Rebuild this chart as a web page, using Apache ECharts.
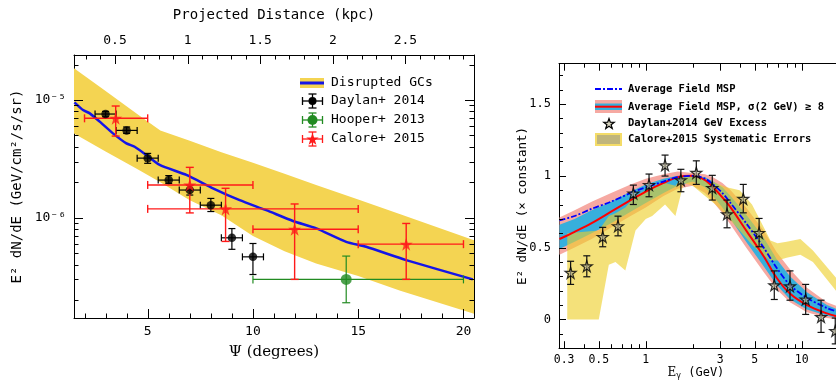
<!DOCTYPE html>
<html>
<head>
<meta charset="utf-8">
<script src="https://cdn.jsdelivr.net/npm/echarts@6/dist/echarts.min.js"></script>
<style>
html, body { margin: 0; padding: 0; background: #fff; }
#main { width: 836px; height: 384px; }
</style>
</head>
<body>
<div id="main"></div>
<script>
// ---- left panel : flux vs angle from the GC ----
var psiMajor = [5, 10, 15, 20];
var psiMinor = [2, 3, 4, 6, 7, 8, 9, 11, 12, 13, 14, 16, 17, 18, 19];
var kpcMajor = [0.5, 1, 1.5, 2, 2.5];
var kpcMinor = [0.3, 0.4, 0.6, 0.7, 0.8, 0.9, 1.1, 1.2, 1.3, 1.4, 1.6, 1.7, 1.8, 1.9, 2.1, 2.2, 2.3, 2.4, 2.6, 2.7, 2.8, 2.9];
var fluxMajor = [1e-6, 1e-5];
var fluxMinor = [2e-7, 3e-7, 4e-7, 5e-7, 6e-7, 7e-7, 8e-7, 9e-7, 2e-6, 3e-6, 4e-6, 5e-6, 6e-6, 7e-6, 8e-6, 9e-6, 2e-5];

// disrupted GC model (blue line) and its band
var gcPsi = [1.52, 1.93, 2.25, 2.72, 3.35, 3.99, 4.38, 4.94, 5.57, 6.84, 8.10, 9.37, 10.63, 11.90, 13.01, 14.43, 15.38, 17.28, 20.44];
var gcFlux = [9.56e-6, 8.22e-6, 7.7e-6, 6.55e-6, 5.21e-6, 4.28e-6, 4.01e-6, 3.41e-6, 2.81e-6, 2.31e-6, 1.78e-6, 1.41e-6, 1.16e-6, 9.4e-7, 8.13e-7, 6.25e-7, 5.67e-7, 4.37e-7, 3.0e-7];
var bandPsi = [1.5, 3, 4.5, 5.6, 7, 8.5, 10, 11.5, 13, 15, 17, 20.5];
var bandHi = [1.86e-5, 1.19e-5, 7.6e-6, 5.5e-6, 4.5e-6, 3.6e-6, 2.93e-6, 2.36e-6, 1.9e-6, 1.43e-6, 1.07e-6, 6.45e-7];
var bandLo = [5.2e-6, 3.66e-6, 2.6e-6, 2.0e-6, 1.41e-6, 1.05e-6, 7.0e-7, 5.2e-7, 4.1e-7, 3.2e-7, 2.4e-7, 1.53e-7];

// Daylan+ 2014
var dayPsi = [3, 4, 5, 6, 7, 8, 9, 10];
var dayFlux = [7.6e-6, 5.52e-6, 3.21e-6, 2.09e-6, 1.72e-6, 1.28e-6, 6.76e-7, 4.66e-7];
var dayLo = [7.2e-6, 5.2e-6, 2.9e-6, 1.96e-6, 1.56e-6, 1.13e-6, 5.4e-7, 3.3e-7];
var dayHi = [8.0e-6, 5.9e-6, 3.52e-6, 2.28e-6, 1.89e-6, 1.46e-6, 8.1e-7, 6.05e-7];
// Hooper+ 2013
var hooPsi = [14.43];
var hooFlux = [3.0e-7];
var hooLo = [1.9e-7];
var hooHi = [4.73e-7];
var hooPsiLo = [10];
var hooPsiHi = [20];
// Calore+ 2015
var calPsi = [3.48, 7.0, 8.7, 11.98, 17.28];
var calFlux = [6.99e-6, 1.90e-6, 1.19e-6, 8.0e-7, 5.97e-7];
var calLo = [4.94e-6, 1.10e-6, 6.3e-7, 3.0e-7, 3.0e-7];
var calHi = [8.89e-6, 2.68e-6, 1.78e-6, 1.31e-6, 8.95e-7];
var calPsiLo = [2.0, 5, 5, 10, 15];
var calPsiHi = [5.0, 10, 15, 15, 20];

// ---- right panel : spectrum ----
var eMajor = [0.3, 0.5, 1, 3, 5, 10, 30, 50];
var eMinor = [0.4, 0.6, 0.7, 0.8, 0.9, 2, 4, 6, 7, 8, 9, 20, 40, 60, 70, 80, 90];
var specMajor = [0, 0.5, 1, 1.5];
var specMinor = [-0.1, 0.1, 0.2, 0.3, 0.4, 0.6, 0.7, 0.8, 0.9, 1.1, 1.2, 1.3, 1.4, 1.6, 1.7];

var mspE = [0.28, 0.35, 0.45, 0.6, 0.8, 1.0, 1.3, 1.6, 2.0, 2.4, 2.7, 3.1, 3.5, 4.4, 5.7, 6.9, 8.4, 10.8, 14.5, 17];
var mspRed = [0.56, 0.61, 0.67, 0.75, 0.83, 0.89, 0.95, 0.99, 1.0, 0.97, 0.92, 0.85, 0.78, 0.62, 0.44, 0.29, 0.18, 0.10, 0.042, 0.02];
var mspBlue = [0.69, 0.72, 0.77, 0.82, 0.88, 0.92, 0.96, 0.99, 1.0, 0.98, 0.94, 0.88, 0.81, 0.67, 0.50, 0.36, 0.24, 0.15, 0.08, 0.055];
var pinkLo = [0.45, 0.50, 0.56, 0.64, 0.72, 0.78, 0.86, 0.91, 0.93, 0.88, 0.82, 0.74, 0.66, 0.50, 0.33, 0.21, 0.12, 0.05, 0.01, 0.0];
var pinkHi = [0.71, 0.76, 0.82, 0.88, 0.94, 0.98, 1.01, 1.03, 1.02, 1.01, 0.99, 0.95, 0.90, 0.78, 0.62, 0.47, 0.35, 0.22, 0.12, 0.09];
var cyanLo = [0.49, 0.54, 0.60, 0.67, 0.75, 0.81, 0.88, 0.93, 0.96, 0.92, 0.86, 0.78, 0.70, 0.54, 0.37, 0.24, 0.14, 0.07, 0.025, 0.01];
var cyanHi = [0.66, 0.70, 0.76, 0.82, 0.89, 0.94, 0.98, 1.0, 1.0, 0.99, 0.96, 0.92, 0.86, 0.73, 0.57, 0.42, 0.30, 0.19, 0.10, 0.07];

// Calore+2015 systematic errors (zig-zag band)
var sysE = [0.314, 0.50, 0.58, 0.64, 0.74, 0.86, 1.0, 1.1, 1.33, 1.55, 1.75, 2.0, 2.4, 2.8, 3.3, 4.0, 4.8, 5.6, 6.3, 7.0, 8.0, 9.8, 11.8, 16.6, 21];
var sysLo = [0.0, 0.0, 0.38, 0.40, 0.34, 0.62, 0.70, 0.72, 0.80, 0.72, 0.95, 0.93, 0.86, 0.80, 0.72, 0.62, 0.52, 0.45, 0.41, 0.41, 0.43, 0.45, 0.40, 0.20, 0.12];
var sysHi = [0.60, 0.62, 0.72, 0.74, 0.78, 0.86, 0.90, 0.92, 0.95, 0.93, 1.0, 1.0, 0.98, 0.95, 0.92, 0.90, 0.80, 0.66, 0.55, 0.53, 0.54, 0.56, 0.48, 0.29, 0.20];

// Daylan+2014 GeV excess
var exE = [0.33, 0.419, 0.53, 0.664, 0.833, 1.05, 1.33, 1.68, 2.11, 2.67, 3.32, 4.22, 5.33, 6.67, 8.41, 10.6, 13.3, 16.4];
var exVal = [0.325, 0.371, 0.575, 0.650, 0.877, 0.937, 1.074, 0.970, 1.021, 0.916, 0.733, 0.840, 0.603, 0.239, 0.232, 0.139, 0.018, -0.08];
var exLo = [0.244, 0.297, 0.506, 0.582, 0.80, 0.854, 0.998, 0.889, 0.94, 0.831, 0.638, 0.742, 0.506, 0.139, 0.134, 0.035, -0.09, -0.17];
var exHi = [0.405, 0.443, 0.641, 0.719, 0.935, 1.012, 1.144, 1.045, 1.104, 1.003, 0.831, 0.94, 0.703, 0.338, 0.338, 0.244, 0.134, 0.01];

var kpcPerDeg = 0.145;
var FONT = 'DejaVu Sans Mono';
var BAND_YEL = '#f4d452';
var STAR = 'path://M50,0 L61.2,34.5 L97.6,34.5 L68.2,55.9 L79.4,90.5 L50,69.1 L20.6,90.5 L31.8,55.9 L2.4,34.5 L38.8,34.5 Z';

function zip() {
  var cols = Array.prototype.slice.call(arguments);
  return cols[0].map(function (v, i) { return cols.map(function (c) { return c[i]; }); });
}

function sup(n) {
  var m = {'-': '⁻', '0': '⁰', '1': '¹', '2': '²', '3': '³', '4': '⁴', '5': '⁵', '6': '⁶', '7': '⁷', '8': '⁸', '9': '⁹'};
  return String(n).split('').map(function (c) { return m[c]; }).join('');
}

function mkAxis(o) {
  return {
    type: o.type || 'value', gridIndex: o.grid, position: o.pos,
    min: o.min, max: o.max, logBase: 10,
    axisLine: { show: true, onZero: false, lineStyle: { color: '#000', width: 1 } },
    axisTick: { show: false },
    axisLabel: o.labels ? { show: true, customValues: o.labels, formatter: o.fmt, margin: o.margin, fontFamily: FONT, fontSize: o.fs || 13, color: '#000' } : { show: false },
    splitLine: { show: false },
    name: o.name || '', nameLocation: 'middle', nameGap: o.nameGap,
    nameTextStyle: o.nameStyle || {}, nameMoveOverlap: false
  };
}

// inward tick marks along the frame, placed with the axis scales
// sides: {bottom|top|left|right: [[values, length], ...]}
function tickSeries(xa, ya, xRef, yRef, sides) {
  return {
    type: 'custom', xAxisIndex: xa, yAxisIndex: ya, z: 10, silent: true,
    data: [[xRef, yRef]],
    renderItem: function (params, api) {
      var cs = params.coordSys, kids = [];
      var st = { stroke: '#000', lineWidth: 1 };
      var top = cs.y, bot = cs.y + cs.height, lft = cs.x, rgt = cs.x + cs.width;
      ['bottom', 'top', 'left', 'right'].forEach(function (side) {
        (sides[side] || []).forEach(function (set) {
          set[0].forEach(function (v) {
            var len = set[1];
            if (side === 'bottom' || side === 'top') {
              var px = Math.round(api.coord([v, yRef])[0]) + 0.5;
              var y0 = side === 'bottom' ? bot : top;
              var y1 = side === 'bottom' ? bot - len : top + len;
              kids.push({ type: 'line', shape: { x1: px, y1: y0, x2: px, y2: y1 }, style: st });
            } else {
              var py = Math.round(api.coord([xRef, v])[1]) + 0.5;
              var x0 = side === 'left' ? lft : rgt;
              var x1 = side === 'left' ? lft + len : rgt - len;
              kids.push({ type: 'line', shape: { x1: x0, y1: py, x2: x1, y2: py }, style: st });
            }
          });
        });
      });
      return { type: 'group', children: kids };
    }
  };
}

function bandSeries(xa, ya, xs, lo, hi, color, z) {
  return {
    type: 'custom', xAxisIndex: xa, yAxisIndex: ya, z: z, silent: true,
    data: [[xs[0], lo[0]]],
    renderItem: function (params, api) {
      var pts = [], i;
      for (i = 0; i < xs.length; i++) pts.push(api.coord([xs[i], hi[i]]));
      for (i = xs.length - 1; i >= 0; i--) pts.push(api.coord([xs[i], lo[i]]));
      return { type: 'polygon', shape: { points: pts }, style: { fill: color } };
    }
  };
}

// rows: [x, y, xlo, xhi, ylo, yhi]
function errSeries(xa, ya, rows, color, width, cap, z) {
  return {
    type: 'custom', xAxisIndex: xa, yAxisIndex: ya, z: z, silent: true,
    data: rows,
    renderItem: function (params, api) {
      var x = api.value(0), y = api.value(1);
      var kids = [];
      var st = { stroke: color, lineWidth: width };
      var xl = api.value(2), xh = api.value(3);
      if (xl !== xh) {
        var a = api.coord([xl, y]), b = api.coord([xh, y]);
        kids.push({ type: 'line', shape: { x1: a[0], y1: a[1], x2: b[0], y2: b[1] }, style: st });
        kids.push({ type: 'line', shape: { x1: a[0], y1: a[1] - cap, x2: a[0], y2: a[1] + cap }, style: st });
        kids.push({ type: 'line', shape: { x1: b[0], y1: b[1] - cap, x2: b[0], y2: b[1] + cap }, style: st });
      }
      var c = api.coord([x, api.value(4)]), d = api.coord([x, api.value(5)]);
      kids.push({ type: 'line', shape: { x1: c[0], y1: c[1], x2: d[0], y2: d[1] }, style: st });
      kids.push({ type: 'line', shape: { x1: c[0] - cap, y1: c[1], x2: c[0] + cap, y2: c[1] }, style: st });
      kids.push({ type: 'line', shape: { x1: d[0] - cap, y1: d[1], x2: d[0] + cap, y2: d[1] }, style: st });
      return { type: 'group', children: kids };
    }
  };
}

function starPts(cx, cy, r) {
  var p = [];
  for (var i = 0; i < 10; i++) {
    var rr = i % 2 ? r * 0.4 : r;
    var a = -Math.PI / 2 + i * Math.PI / 5;
    p.push([cx + rr * Math.cos(a), cy + rr * Math.sin(a)]);
  }
  return p;
}

function legendErr(cx, cy, color, marker) {
  var st = { stroke: color, lineWidth: 1.3 };
  var g = [
    { type: 'line', shape: { x1: cx - 10, y1: cy, x2: cx + 10, y2: cy }, style: st },
    { type: 'line', shape: { x1: cx - 10, y1: cy - 4, x2: cx - 10, y2: cy + 4 }, style: st },
    { type: 'line', shape: { x1: cx + 10, y1: cy - 4, x2: cx + 10, y2: cy + 4 }, style: st },
    { type: 'line', shape: { x1: cx, y1: cy - 7, x2: cx, y2: cy + 7 }, style: st },
    { type: 'line', shape: { x1: cx - 4, y1: cy - 7, x2: cx + 4, y2: cy - 7 }, style: st },
    { type: 'line', shape: { x1: cx - 4, y1: cy + 7, x2: cx + 4, y2: cy + 7 }, style: st }
  ];
  g.push(marker);
  return g;
}

function legText(x, y, s, fs, bold) {
  return { type: 'text', x: x, y: y, style: { text: s, fontFamily: FONT, fontSize: fs, fontWeight: bold ? 'bold' : 'normal', fill: '#000', verticalAlign: 'middle', align: 'left' } };
}

var chart = echarts.init(document.getElementById('main'));

var eMin = 0.278, eMax = 100;
var rightGridW = (Math.log10(eMax) - Math.log10(eMin)) * 156;

var graphics = [];
// left legend
graphics.push({ type: 'rect', shape: { x: 300, y: 78, width: 24, height: 10 }, style: { fill: BAND_YEL } });
graphics.push({ type: 'line', shape: { x1: 300, y1: 83, x2: 324, y2: 83 }, style: { stroke: '#1515e8', lineWidth: 3 } });
graphics.push(legText(331, 83, 'Disrupted GCs', 13));
legendErr(312.5, 101, '#000', { type: 'circle', shape: { cx: 312.5, cy: 101, r: 4 }, style: { fill: '#000' } }).forEach(function (e) { graphics.push(e); });
graphics.push(legText(331, 101, 'Daylan+ 2014', 13));
legendErr(312.5, 120, '#228b22', { type: 'circle', shape: { cx: 312.5, cy: 120, r: 5 }, style: { fill: '#228b22' } }).forEach(function (e) { graphics.push(e); });
graphics.push(legText(331, 120, 'Hooper+ 2013', 13));
legendErr(312.5, 139, '#ff1a1a', { type: 'polygon', shape: { points: starPts(312.5, 139.5, 6.5) }, style: { fill: '#ff1a1a' } }).forEach(function (e) { graphics.push(e); });
graphics.push(legText(331, 139, 'Calore+ 2015', 13));
// right legend
graphics.push({ type: 'line', shape: { x1: 595, y1: 89, x2: 622, y2: 89 }, style: { stroke: '#0000ff', lineWidth: 2, lineDash: [6, 2, 2, 2] } });
graphics.push(legText(628, 89, 'Average Field MSP', 10.5, true));
graphics.push({ type: 'rect', shape: { x: 595, y: 100, width: 27, height: 13 }, style: { fill: '#f6a9a2' } });
graphics.push({ type: 'rect', shape: { x: 595, y: 103.5, width: 27, height: 6.5 }, style: { fill: '#37afdc' } });
graphics.push({ type: 'line', shape: { x1: 595, y1: 106.7, x2: 622, y2: 106.7 }, style: { stroke: '#ff0000', lineWidth: 2 } });
graphics.push(legText(628, 107, 'Average Field MSP, σ(2 GeV) ≥ 8', 10.5, true));
graphics.push({ type: 'polygon', shape: { points: starPts(609, 124, 5.5) }, style: { fill: 'rgba(190,185,150,0.6)', stroke: '#000', lineWidth: 1.2 } });
graphics.push(legText(628, 123, 'Daylan+2014 GeV Excess', 10.5, true));
graphics.push({ type: 'rect', shape: { x: 595, y: 133, width: 27, height: 13 }, style: { fill: 'rgba(240,205,40,0.7)' } });
graphics.push({ type: 'rect', shape: { x: 597, y: 135, width: 23, height: 9 }, style: { fill: 'rgba(150,150,140,0.55)' } });
graphics.push(legText(628, 139, 'Calore+2015 Systematic Errors', 10.5, true));

var option = {
  animation: false,
  backgroundColor: '#fff',
  textStyle: { fontFamily: FONT, color: '#000' },
  grid: [
    { left: 74, top: 55, width: 400, height: 263, containLabel: false, outerBoundsMode: 'none' },
    { left: 559, top: 63.7, width: rightGridW, height: 284.5, containLabel: false, outerBoundsMode: 'none' }
  ],
  xAxis: [
    mkAxis({ grid: 0, pos: 'bottom', min: 1.5, max: 20.5, labels: psiMajor, margin: 7, fmt: function (v) { return String(v); },
      name: 'Ψ (degrees)', nameGap: 27, nameStyle: { fontFamily: 'DejaVu Serif', fontSize: 15, color: '#000' } }),
    mkAxis({ grid: 0, pos: 'top', min: 1.5 * kpcPerDeg, max: 20.5 * kpcPerDeg, labels: kpcMajor, margin: 8, fmt: function (v) { return String(v); },
      name: 'Projected Distance (kpc)', nameGap: 33, nameStyle: { fontFamily: FONT, fontSize: 14, color: '#000' } }),
    mkAxis({ grid: 1, type: 'log', pos: 'bottom', min: eMin, max: eMax, labels: eMajor, margin: 6, fs: 11.5, fmt: function (v) { return String(v); },
      name: '{e|E}{s|γ} (GeV)', nameGap: 18, nameStyle: { fontFamily: FONT, fontSize: 12, color: '#000', padding: [0, 125, 0, 0],
        rich: { e: { fontFamily: 'DejaVu Serif', fontSize: 12 }, s: { fontSize: 8, verticalAlign: 'bottom', padding: [6, 0, 0, 0] } } } }),
    mkAxis({ grid: 1, type: 'log', pos: 'top', min: eMin, max: eMax })
  ],
  yAxis: [
    mkAxis({ grid: 0, type: 'log', pos: 'left', min: 1.41e-7, max: 2.41e-5, labels: fluxMajor, margin: 8,
      fmt: function (v) { return '10' + sup(Math.round(Math.log10(v))); },
      name: 'E² dN/dE (GeV/cm²/s/sr)', nameGap: 50, nameStyle: { fontFamily: FONT, fontSize: 14, color: '#000' } }),
    mkAxis({ grid: 0, type: 'log', pos: 'right', min: 1.41e-7, max: 2.41e-5 }),
    mkAxis({ grid: 1, pos: 'left', min: -0.2, max: 1.78, labels: specMajor, margin: 8, fs: 12,
      fmt: function (v) { return String(v); },
      name: 'E² dN/dE (× constant)', nameGap: 30, nameStyle: { fontFamily: FONT, fontSize: 12.5, color: '#000' } })
  ],
  graphic: graphics,
  series: [
    // left panel
    bandSeries(0, 0, bandPsi, bandLo, bandHi, BAND_YEL, 1),
    { type: 'line', xAxisIndex: 0, yAxisIndex: 0, z: 3, data: zip(gcPsi, gcFlux), showSymbol: false, smooth: 0.2,
      lineStyle: { color: '#1515e8', width: 2.5 } },
    errSeries(0, 0, zip(dayPsi, dayFlux, dayPsi.map(function (v) { return v - 0.5; }), dayPsi.map(function (v) { return v + 0.5; }), dayLo, dayHi), '#000', 1.2, 3.5, 4),
    { type: 'scatter', xAxisIndex: 0, yAxisIndex: 0, z: 5, data: zip(dayPsi, dayFlux), symbol: 'circle', symbolSize: 8.5, itemStyle: { color: '#000' } },
    errSeries(0, 0, zip(hooPsi, hooFlux, hooPsiLo, hooPsiHi, hooLo, hooHi), '#228b22', 1.2, 4, 4),
    { type: 'scatter', xAxisIndex: 0, yAxisIndex: 0, z: 5, data: zip(hooPsi, hooFlux), symbol: 'circle', symbolSize: 11, itemStyle: { color: '#228b22' } },
    errSeries(0, 0, zip(calPsi, calFlux, calPsiLo, calPsiHi, calLo, calHi), '#ff1a1a', 1.4, 4, 4),
    { type: 'scatter', xAxisIndex: 0, yAxisIndex: 0, z: 5, data: zip(calPsi, calFlux), symbol: STAR, symbolSize: 13, itemStyle: { color: '#ff1a1a' } },
    tickSeries(0, 0, 10, 1e-6, {
      bottom: [[psiMajor, 9], [psiMinor, 4.5]],
      left: [[fluxMajor, 9], [fluxMinor, 4.5]],
      right: [[fluxMajor, 9], [fluxMinor, 4.5]]
    }),
    tickSeries(1, 0, 1, 1e-6, { top: [[kpcMajor, 9], [kpcMinor, 4.5]] }),
    // right panel
    bandSeries(2, 2, mspE, pinkLo, pinkHi, '#f6a9a2', 1),
    bandSeries(2, 2, mspE, cyanLo, cyanHi, '#37afdc', 2),
    bandSeries(2, 2, sysE, sysLo, sysHi, 'rgba(238,206,40,0.62)', 3),
    { type: 'line', xAxisIndex: 2, yAxisIndex: 2, z: 4, data: zip(mspE, mspRed), showSymbol: false, smooth: 0.3,
      lineStyle: { color: '#ff0000', width: 2 } },
    { type: 'line', xAxisIndex: 2, yAxisIndex: 2, z: 4, data: zip(mspE, mspBlue), showSymbol: false, smooth: 0.3,
      lineStyle: { color: '#0000ff', width: 1.8, type: [6, 2, 2, 2] } },
    errSeries(2, 2, zip(exE, exVal, exE, exE, exLo, exHi), '#111', 1.2, 3.5, 5),
    { type: 'scatter', xAxisIndex: 2, yAxisIndex: 2, z: 6, data: zip(exE, exVal), symbol: STAR, symbolSize: 11,
      itemStyle: { color: 'rgba(185,180,150,0.75)', borderColor: '#000', borderWidth: 1.2 } },
    tickSeries(2, 2, 1, 0.5, {
      bottom: [[eMajor, 7], [eMinor, 4]],
      top: [[eMajor, 7], [eMinor, 4]],
      left: [[specMajor, 7], [specMinor, 4]]
    })
  ]
};

chart.setOption(option);
</script>
</body>
</html>
